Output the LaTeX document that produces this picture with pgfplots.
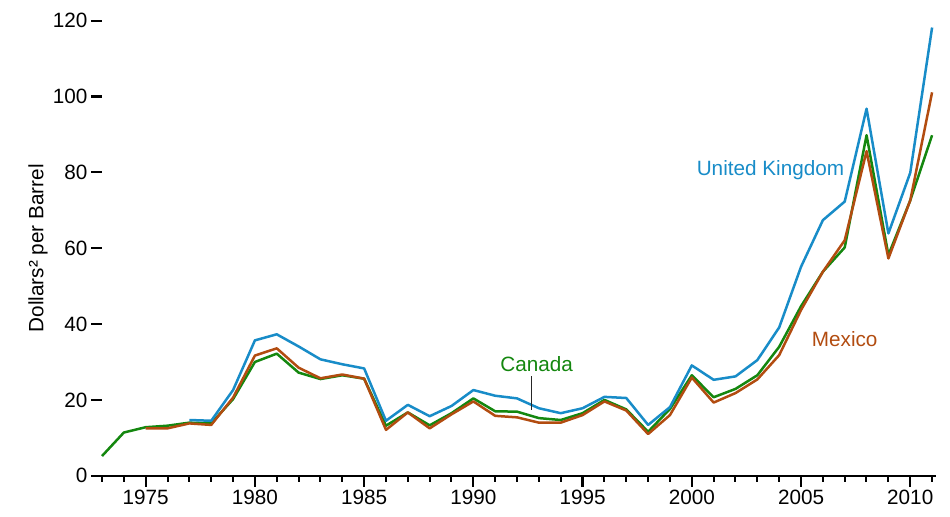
\documentclass[border=0pt]{standalone}
\usepackage{fontspec}
\setmainfont{Liberation Sans}
\usepackage{pgfplots}
\pgfplotsset{compat=1.18}
\definecolor{ukblue}{RGB}{24,140,200}
\definecolor{cangreen}{RGB}{20,135,15}
\definecolor{mexbrown}{RGB}{178,76,16}
\begin{document}
\begin{tikzpicture}
\begin{axis}[
  scale only axis,
  width=830pt, height=455pt,
  xmin=1973, xmax=2011, ymin=0, ymax=120,
  clip=false,
  axis lines=left,
  axis line style={draw=none},
  tick align=outside,
  xtick={1975,1980,...,2010},
  minor xtick={1973,...,2011},
  ytick={0,20,...,120},
  major tick length=11pt,
  minor tick length=6pt,
  every tick/.style={black, line width=2.2pt},
  every minor tick/.style={black, line width=2pt},
  xticklabel style={/pgf/number format/1000 sep={}},
  /pgf/number format/assume math mode=true,
  font=\fontsize{20.7}{24}\selectfont,
  ylabel={Dollars² per Barrel},
  ylabel style={at={(rel axis cs:-0.0771,0.5)}, anchor=center},
  line join=round,
]
\draw[line width=2.1pt] (axis cs:1972.55,0) -- (axis cs:2011.2,0);
\addplot[cangreen, line width=2.5pt] coordinates {
(1973,5.2) (1974,11.4) (1975,12.8) (1976,13.2) (1977,14.0) (1978,13.8) (1979,20.2)
(1980,30.0) (1981,32.2) (1982,27.2) (1983,25.5) (1984,26.5) (1985,25.6) (1986,13.2)
(1987,16.7) (1988,13.3) (1989,16.5) (1990,20.4) (1991,17.0) (1992,16.9) (1993,15.2)
(1994,14.7) (1995,16.5) (1996,20.0) (1997,17.5) (1998,11.6) (1999,17.6) (2000,26.5)
(2001,20.7) (2002,22.9) (2003,26.5) (2004,34.0) (2005,44.7) (2006,53.8) (2007,60.2)
(2008,89.8) (2009,58.2) (2010,72.6) (2011,89.8)};
\addplot[mexbrown, line width=2.5pt] coordinates {
(1975,12.5) (1976,12.5) (1977,13.8) (1978,13.4) (1979,20.6) (1980,31.7) (1981,33.6)
(1982,28.5) (1983,25.7) (1984,26.7) (1985,25.6) (1986,12.1) (1987,16.7) (1988,12.5)
(1989,16.2) (1990,19.6) (1991,15.8) (1992,15.4) (1993,14.0) (1994,14.0) (1995,16.0)
(1996,19.6) (1997,17.2) (1998,11.0) (1999,16.0) (2000,25.9) (2001,19.3) (2002,21.8)
(2003,25.4) (2004,31.8) (2005,43.7) (2006,53.8) (2007,62.1) (2008,85.6) (2009,57.3)
(2010,72.6) (2011,101.1)};
\addplot[ukblue, line width=2.5pt] coordinates {
(1977,14.7) (1978,14.5) (1979,22.6) (1980,35.7) (1981,37.3) (1982,34.1) (1983,30.7)
(1984,29.4) (1985,28.3) (1986,14.5) (1987,18.7) (1988,15.7) (1989,18.4) (1990,22.6)
(1991,21.1) (1992,20.4) (1993,17.8) (1994,16.5) (1995,17.8) (1996,20.8) (1997,20.5)
(1998,13.4) (1999,18.1) (2000,29.1) (2001,25.3) (2002,26.2) (2003,30.5) (2004,39.1)
(2005,55.1) (2006,67.4) (2007,72.3) (2008,96.8) (2009,63.9) (2010,79.9) (2011,118.2)};
\node[text=ukblue] at (axis cs:2003.6,80.5) {United Kingdom};
\node[text=mexbrown] at (axis cs:2007.0,36.0) {Mexico};
\node[text=cangreen] at (axis cs:1992.9,29.5) {Canada};
\draw[line width=0.9pt, black!85] (axis cs:1992.68,26.3) -- (axis cs:1992.68,17.4);
\path (axis cs:1968.33,-10.81) rectangle (axis cs:2011.82,125.46);
\end{axis}
\end{tikzpicture}
\end{document}
